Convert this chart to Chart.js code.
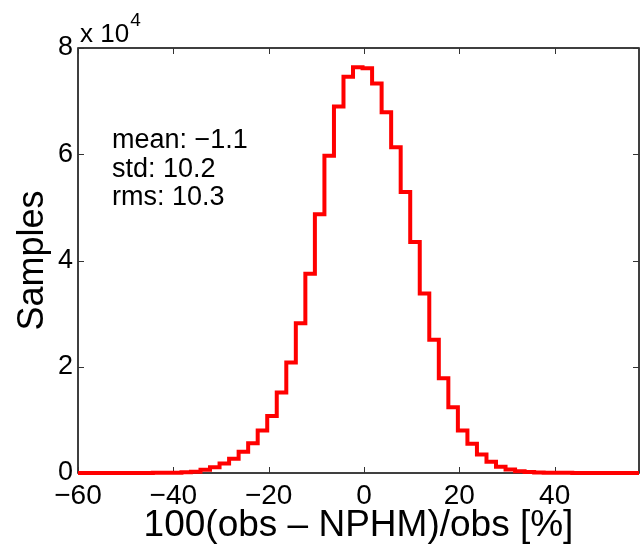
<!DOCTYPE html>
<html>
<head>
<meta charset="utf-8">
<script src="https://cdn.jsdelivr.net/npm/chart.js@4/dist/chart.umd.min.js"></script>
<style>
  html, body { margin: 0; padding: 0; background: #ffffff; }
  #wrap { width: 641px; height: 547px; position: relative; }
</style>
</head>
<body>
<div id="wrap"><canvas id="c" width="641" height="547"></canvas></div>
<script>
// ---- data ----
const binCenters = [
  -59.3, -57.3, -55.3, -53.3, -51.3, -49.3, -47.3, -45.3, -43.3, -41.3,
  -39.3, -37.3, -35.3, -33.3, -31.3, -29.3, -27.3, -25.3, -23.3, -21.3,
  -19.3, -17.3, -15.3, -13.3, -11.3, -9.3, -7.3, -5.3, -3.3, -1.3,
  0.7, 2.7, 4.7, 6.7, 8.7, 10.7, 12.7, 14.7, 16.7, 18.7,
  20.7, 22.7, 24.7, 26.7, 28.7, 30.7, 32.7, 34.7, 36.7, 38.7,
  40.7, 42.7, 44.7, 46.7, 48.7, 50.7, 52.7, 54.7, 56.7
];
const sampleCounts = [
  4, 5, 6, 8, 10, 10, 15, 20, 30, 50,
  70, 120, 250, 600, 1100, 1780, 2700, 4000, 5600, 8000,
  10750, 15150, 20800, 28200, 37500, 48700, 59700, 69000, 74600, 76400,
  76200, 73300, 67900, 61300, 52900, 43500, 33800, 25100, 17850, 12400,
  8000, 5500, 3500, 2100, 1200, 650, 350, 180, 100, 60,
  40, 30, 20, 15, 10, 10, 8, 5, 3
];
const xTickValues = [-60, -40, -20, 0, 20, 40];
const yTickValues = [0, 20000, 40000, 60000, 80000];
const statsLines = ["mean: \u22121.1", "std: 10.2", "rms: 10.3"];
const xTitle = "100(obs \u2013 NPHM)/obs [%]";
const yTitle = "Samples";

// step-line points at bin edges
const halfBin = (binCenters[1] - binCenters[0]) / 2;
const stepPoints = binCenters.map((c, i) => ({ x: c - halfBin, y: sampleCounts[i] }));
stepPoints.push({ x: binCenters[binCenters.length - 1] + halfBin, y: sampleCounts[sampleCounts.length - 1] });

const FONT = "'Liberation Sans', Arial, Helvetica, sans-serif";

const framePlugin = {
  id: 'frame',
  beforeDatasetsDraw(chart) {
    const { ctx, chartArea: a, scales } = chart;
    ctx.save();
    ctx.strokeStyle = '#000';
    ctx.lineWidth = 1.5;
    ctx.strokeRect(a.left, a.top, a.right - a.left, a.bottom - a.top);
    ctx.lineWidth = 1;
    ctx.strokeStyle = '#333';
    const tl = 6;
    scales.x.ticks.forEach(t => {
      const px = Math.round(scales.x.getPixelForValue(t.value)) + 0.5;
      ctx.beginPath();
      ctx.moveTo(px, a.bottom); ctx.lineTo(px, a.bottom - tl);
      ctx.moveTo(px, a.top); ctx.lineTo(px, a.top + tl);
      ctx.stroke();
    });
    scales.y.ticks.forEach(t => {
      const py = Math.round(scales.y.getPixelForValue(t.value)) + 0.5;
      ctx.beginPath();
      ctx.moveTo(a.left, py); ctx.lineTo(a.left + tl, py);
      ctx.moveTo(a.right, py); ctx.lineTo(a.right - tl, py);
      ctx.stroke();
    });
    ctx.restore();
  },
  afterDraw(chart) {
    const { ctx, chartArea: a } = chart;
    ctx.save();
    ctx.fillStyle = '#000';
    ctx.textBaseline = 'alphabetic';
    ctx.textAlign = 'left';
    // exponent label
    ctx.font = '26px ' + FONT;
    ctx.fillText('x 10', a.left + 2, a.top - 6);
    const w = ctx.measureText('x 10').width;
    ctx.font = '19px ' + FONT;
    ctx.fillText('4', a.left + 2 + w + 1, a.top - 22);
    // stats annotation
    ctx.font = '27px ' + FONT;
    statsLines.forEach((s, i) => {
      ctx.fillText(s, a.left + 34, a.top + 100 + i * 28.5);
    });
    ctx.restore();
  }
};

new Chart(document.getElementById('c'), {
  type: 'line',
  data: {
    datasets: [{
      data: stepPoints,
      stepped: true,
      borderColor: '#ff0000',
      borderWidth: 4,
      pointRadius: 0,
      fill: false,
      clip: { left: 0, right: 0, top: 5, bottom: 5 }
    }]
  },
  options: {
    responsive: false,
    animation: false,
    events: [],
    layout: { padding: { top: 48, right: 2, left: 0, bottom: 0 } },
    plugins: { legend: { display: false }, tooltip: { enabled: false } },
    scales: {
      x: {
        type: 'linear',
        min: -60,
        max: 57.7,
        afterFit(s) { s.height = 74; },
        afterBuildTicks(s) { s.ticks = xTickValues.map(v => ({ value: v })); },
        grid: { display: false, drawTicks: false },
        border: { display: false },
        ticks: {
          color: '#000',
          font: { family: FONT, size: 28 },
          padding: 6,
          maxRotation: 0,
          autoSkip: false,
          callback: v => (v < 0 ? '\u2212' + Math.abs(v) : String(v))
        },
        title: {
          display: true,
          text: xTitle,
          color: '#000',
          font: { family: FONT, size: 37, lineHeight: 1 },
          padding: { top: 0, bottom: 3 }
        }
      },
      y: {
        type: 'linear',
        min: 0,
        max: 80000,
        afterFit(s) { s.width = 78; },
        afterBuildTicks(s) { s.ticks = yTickValues.map(v => ({ value: v })); },
        grid: { display: false, drawTicks: false },
        border: { display: false },
        ticks: {
          color: '#000',
          font: { family: FONT, size: 27 },
          padding: 5,
          autoSkip: false,
          callback: v => String(v / 10000)
        },
        title: {
          display: true,
          text: yTitle,
          color: '#000',
          font: { family: FONT, size: 36, lineHeight: 1 },
          padding: { top: 15, bottom: 0 }
        }
      }
    }
  },
  plugins: [framePlugin]
});
</script>
</body>
</html>
